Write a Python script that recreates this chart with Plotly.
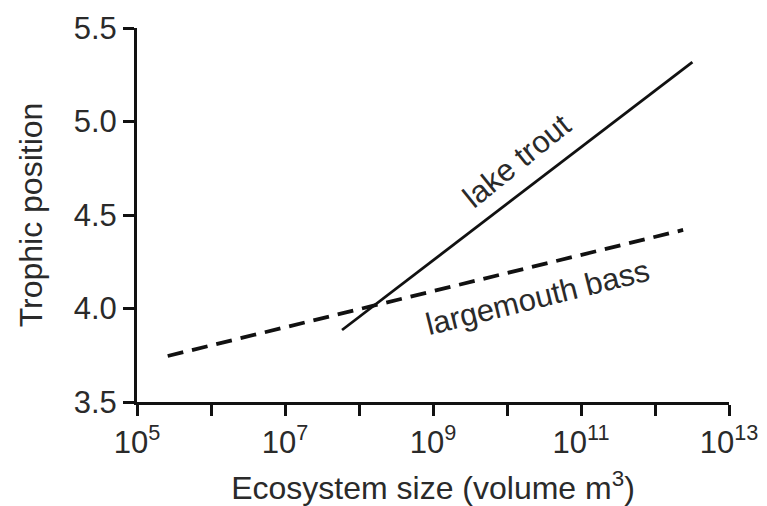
import plotly.graph_objects as go

# Fitted trophic position vs. ecosystem size (end points of each regression line)
trout_volume = [5.9e7, 3.2e12]
trout_position = [3.885, 5.318]

bass_volume = [2.6e5, 2.4e12]
bass_position = [3.746, 4.42]

# Axis ticks
x_tick_vals = [1e5, 1e6, 1e7, 1e8, 1e9, 1e10, 1e11, 1e12, 1e13]
x_tick_text = ["10<sup>5</sup>", "", "10<sup>7</sup>", "", "10<sup>9</sup>", "",
               "10<sup>11</sup>", "", "10<sup>13</sup>"]
y_tick_vals = [3.5, 4.0, 4.5, 5.0, 5.5]
y_tick_text = ["3.5", "4.0", "4.5", "5.0", "5.5"]

FONT = "Liberation Sans, Arial, sans-serif"
TEXT = "#2a2a2a"

fig = go.Figure()
fig.add_trace(go.Scatter(
    x=trout_volume, y=trout_position, mode="lines",
    line=dict(color="#111", width=2.8), showlegend=False, name="lake trout"))
fig.add_trace(go.Scatter(
    x=bass_volume, y=bass_position, mode="lines",
    line=dict(color="#111", width=3.8, dash="16px,9px"), showlegend=False,
    name="largemouth bass"))

fig.add_annotation(x=10.14, y=4.79, xref="x", yref="y", text="lake trout",
                   showarrow=False, textangle=-39,
                   font=dict(family=FONT, size=31, color=TEXT))
fig.add_annotation(x=10.41, y=4.06, xref="x", yref="y", text="largemouth bass",
                   showarrow=False, textangle=-14,
                   font=dict(family=FONT, size=31, color=TEXT))

fig.update_layout(
    width=767, height=506,
    margin=dict(l=137, r=38, t=28, b=104, autoexpand=False),
    paper_bgcolor="white", plot_bgcolor="white",
    font=dict(family=FONT, size=31, color=TEXT),
    xaxis=dict(
        type="log", range=[5, 13], automargin=False,
        tickvals=x_tick_vals, ticktext=x_tick_text,
        ticks="outside", ticklen=11, tickwidth=3, tickcolor="#111",
        showline=True, linecolor="#111", linewidth=3,
        showgrid=False, zeroline=False,
        tickfont=dict(size=31, color=TEXT),
        title=dict(text="Ecosystem size (volume m<sup>3</sup>)",
                   font=dict(size=32, color=TEXT), standoff=20),
    ),
    yaxis=dict(
        range=[3.5, 5.5], automargin=False,
        tickvals=y_tick_vals, ticktext=y_tick_text,
        ticks="outside", ticklen=11, tickwidth=3, tickcolor="#111",
        showline=True, linecolor="#111", linewidth=3,
        showgrid=False, zeroline=False,
        tickfont=dict(size=31, color=TEXT),
        title=dict(text="Trophic position", font=dict(size=32, color=TEXT),
                   standoff=22),
    ),
)

fig.write_html("out.html")
